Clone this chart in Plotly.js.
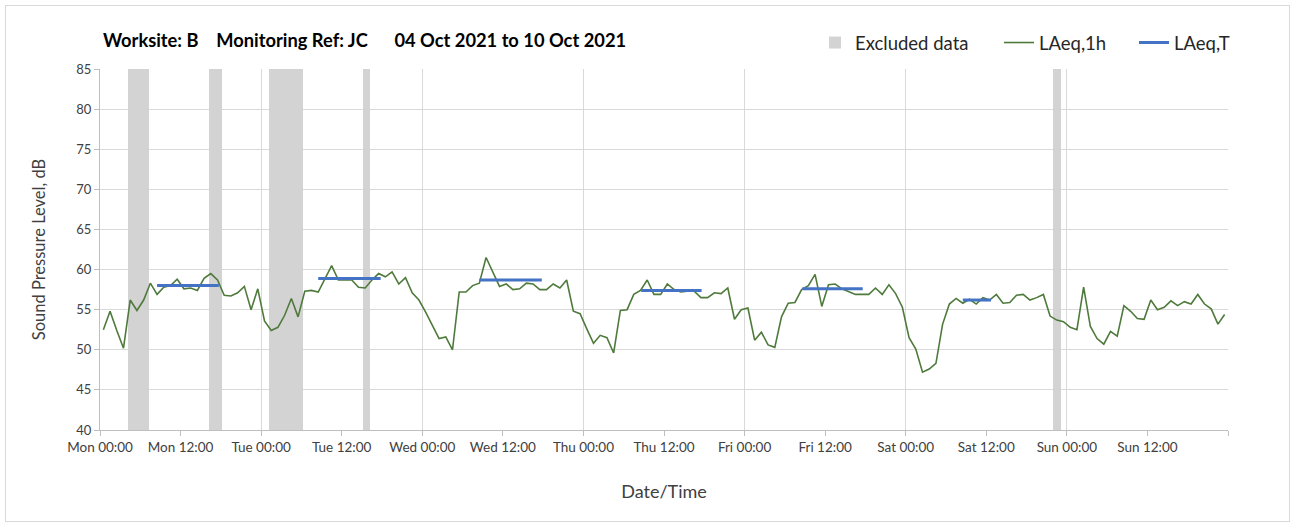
<!DOCTYPE html>
<html>
<head>
<meta charset="utf-8">
<script src="https://cdn.plot.ly/plotly-3.0.1.min.js"></script>
<style>
  html, body { margin: 0; padding: 0; background: #ffffff; }
  #frame { position: absolute; left: 5px; top: 5px; width: 1283px; height: 515px; border: 1px solid #d9d9d9; }
  #chart { position: absolute; left: 0; top: 0; width: 1295px; height: 528px; }
</style>
</head>
<body>
<div id="frame"></div>
<div id="chart"></div>
<script>
// ---- Data ----
// Hourly LAeq,1h values, Mon 04 Oct 2021 00:00 to Sun 10 Oct 2021 23:00 (plotted at mid-hour)
const laeq1h = [
  52.5,54.8,52.4,50.2,56.2,54.9,56.2,58.3,56.9,57.8,58.0,58.8,57.6,57.7,57.4,58.9,59.5,58.7,56.8,56.7,57.1,57.9,55.0,57.6,
  53.6,52.4,52.8,54.3,56.4,54.1,57.3,57.4,57.2,58.9,60.5,58.7,58.7,58.7,57.8,57.7,58.7,59.5,59.1,59.7,58.2,59.0,57.1,56.2,
  54.7,53.0,51.4,51.6,50.0,57.2,57.2,58.0,58.3,61.5,59.7,57.9,58.2,57.5,57.6,58.3,58.2,57.5,57.5,58.2,57.7,58.7,54.8,54.5,
  52.6,50.8,51.8,51.5,49.6,54.9,55.0,56.9,57.4,58.7,56.9,56.9,58.2,57.5,57.2,57.3,57.3,56.5,56.5,57.1,57.0,57.7,53.8,55.0,
  55.2,51.2,52.2,50.6,50.3,54.1,55.8,55.9,57.5,58.0,59.4,55.4,58.1,58.2,57.6,57.2,56.9,56.9,56.9,57.7,56.9,58.1,57.0,55.3,
  51.5,50.1,47.2,47.6,48.3,53.2,55.7,56.4,55.8,56.3,55.7,56.5,56.2,56.9,55.8,55.9,56.8,56.9,56.2,56.5,56.9,54.2,53.7,53.5,
  52.8,52.5,57.8,52.9,51.4,50.7,52.3,51.7,55.5,54.8,53.9,53.8,56.2,55.0,55.3,56.1,55.5,56.0,55.7,56.9,55.7,55.1,53.2,54.4
];
const firstHour = 0.5;   // hours after Mon 00:00 of first reading

// LAeq,T for each working period (hours after Mon 00:00)
const periodStart = [8.5, 32.5, 56.5, 80.6, 104.6, 128.5];
const periodEnd   = [17.7, 41.8, 65.8, 89.6, 113.6, 132.7];
const laeqT       = [58.0, 58.9, 58.7, 57.4, 57.6, 56.2];

// Excluded data periods (hours after Mon 00:00)
const exclStart = [4.2, 16.3, 25.2, 39.2, 142.0];
const exclEnd   = [7.3, 18.2, 30.2, 40.2, 143.1];

// Axis tick labels every 12 hours
const tickHours  = [0,12,24,36,48,60,72,84,96,108,120,132,144,156,168];
const tickLabels = ["Mon 00:00","Mon 12:00","Tue 00:00","Tue 12:00","Wed 00:00","Wed 12:00",
                    "Thu 00:00","Thu 12:00","Fri 00:00","Fri 12:00","Sat 00:00","Sat 12:00",
                    "Sun 00:00","Sun 12:00",""];
const yMin = 40, yMax = 85;

// ---- Build traces ----
const hours = laeq1h.map((v, i) => firstHour + i);

const tx = [], ty = [];
periodStart.forEach((s, k) => {
  tx.push(s, periodEnd[k], null);
  ty.push(laeqT[k], laeqT[k], null);
});

const FONT = "Lato, 'Open Sans', 'Noto Sans', sans-serif";

const traces = [
  {
    type: 'bar',
    name: 'Excluded data',
    x: exclStart.map((s, k) => (s + exclEnd[k]) / 2),
    width: exclStart.map((s, k) => exclEnd[k] - s),
    base: exclStart.map(() => yMin),
    y: exclStart.map(() => yMax - yMin),
    marker: { color: '#d3d3d3', line: { width: 0 } },
    hoverinfo: 'skip',
    legend: 'legend'
  },
  {
    type: 'scatter', mode: 'lines',
    name: 'LAeq,1h',
    x: hours, y: laeq1h,
    line: { color: '#4e7a3b', width: 1.6 },
    legend: 'legend2'
  },
  {
    type: 'scatter', mode: 'lines',
    name: 'LAeq,T',
    x: tx, y: ty,
    line: { color: '#4472c4', width: 3 },
    legend: 'legend3'
  },
  { // empty trace to create the day-gridline overlay axis
    type: 'scatter', x: [], y: [], xaxis: 'x2', showlegend: false, hoverinfo: 'skip'
  }
];

const legendBase = {
  orientation: 'h', xref: 'container', yref: 'container',
  xanchor: 'left', yanchor: 'middle', y: 1 - 43 / 528,
  bgcolor: 'rgba(0,0,0,0)', borderwidth: 0,
  font: { family: FONT, size: 18.5, color: '#262626' }
};

const layout = {
  width: 1295, height: 528,
  margin: { l: 100, r: 67, t: 69, b: 98 },
  paper_bgcolor: 'rgba(0,0,0,0)',
  plot_bgcolor: 'rgba(0,0,0,0)',
  font: { family: FONT, color: '#262626' },
  title: {
    text: 'Worksite: B\u00a0\u00a0\u00a0 Monitoring Ref: JC\u00a0\u00a0\u00a0\u00a0\u00a0 04 Oct 2021 to 10 Oct 2021',
    font: { family: FONT, size: 18.3, color: '#000000', weight: 'bold' },
    xref: 'container', yref: 'container',
    x: 103 / 1295, xanchor: 'left',
    y: 1 - 41 / 528, yanchor: 'middle'
  },
  bargap: 0,
  xaxis: {
    range: [0, 168],
    tickmode: 'array', tickvals: tickHours, ticktext: tickLabels,
    ticks: 'outside', ticklen: 5, tickcolor: '#bfbfbf',
    showgrid: false, zeroline: false,
    showline: true, linecolor: '#bfbfbf', linewidth: 1,
    tickfont: { family: FONT, size: 13.5, color: '#404040' },
    title: { text: 'Date/Time', font: { family: FONT, size: 18, color: '#404040' }, standoff: 31 },
    automargin: false, fixedrange: true
  },
  xaxis2: {
    overlaying: 'x', matches: 'x', anchor: 'y',
    tickmode: 'linear', tick0: 0, dtick: 24,
    showgrid: true, gridcolor: '#d9d9d9', gridwidth: 1,
    showticklabels: false, ticks: '', zeroline: false, showline: false,
    automargin: false
  },
  yaxis: {
    range: [yMin, yMax],
    tickmode: 'linear', tick0: 40, dtick: 5,
    ticks: 'outside', ticklen: 5, tickcolor: '#bfbfbf',
    showgrid: true, gridcolor: '#d9d9d9', gridwidth: 1,
    zeroline: false,
    showline: true, linecolor: '#bfbfbf', linewidth: 1,
    tickfont: { family: FONT, size: 13, color: '#404040' },
    title: { text: 'Sound Pressure Level, dB', font: { family: FONT, size: 16.5, color: '#404040' }, standoff: 26 },
    automargin: false, fixedrange: true
  },
  legend:  Object.assign({}, legendBase, { x: 815 / 1295 }),
  legend2: Object.assign({}, legendBase, { x: 999 / 1295 }),
  legend3: Object.assign({}, legendBase, { x: 1134 / 1295 }),
  showlegend: true
};

Plotly.newPlot('chart', traces, layout, { displayModeBar: false, staticPlot: true });
</script>
</body>
</html>
